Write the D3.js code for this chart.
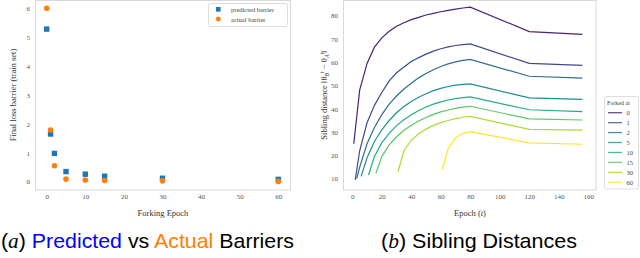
<!DOCTYPE html>
<html>
<head>
<meta charset="utf-8">
<script src="https://cdn.jsdelivr.net/npm/d3@7"></script>
<style>
  body { margin: 0; background: #fff; }
  svg { display: block; }
</style>
</head>
<body>
<svg width="640" height="258"></svg>
<script>
// ---- data: (a) barriers ----
const forkEpochs = [0, 1, 2, 5, 10, 15, 30, 60];
const predictedBarrier = [5.28, 1.65, 0.98, 0.35, 0.26, 0.19, 0.12, 0.08];
const actualBarrier = [6.0, 1.79, 0.55, 0.09, 0.06, 0.04, 0.03, 0.01];
const barrierTicksX = [0, 10, 20, 30, 40, 50, 60];
const barrierTicksY = [0, 1, 2, 3, 4, 5, 6];

// ---- data: (b) sibling distances, one list per fork epoch ----
const forkedAt = [0, 1, 2, 5, 10, 15, 30, 60];
const epochs0 = [1, 5, 10, 15, 20, 25, 30, 35, 40, 45, 50, 55, 60, 65, 70, 75, 80, 120, 156];
const dist0 = [25, 48, 59.5, 66.5, 70.5, 73.3, 75.5, 77, 78.3, 79.3, 80.3, 81, 81.7, 82.3, 82.8, 83.3, 83.7, 73.2, 72];
const epochs1 = [2, 5, 10, 15, 20, 25, 30, 35, 40, 45, 50, 55, 60, 65, 70, 75, 80, 120, 156];
const dist1 = [9.5, 22, 34, 41.5, 47, 52, 55.5, 58, 60.3, 62, 63.5, 64.8, 65.8, 66.6, 67.2, 67.6, 67.9, 59.5, 58.7];
const epochs2 = [3, 5, 10, 15, 20, 25, 30, 35, 40, 45, 50, 55, 60, 65, 70, 75, 80, 120, 156];
const dist2 = [10, 15, 25, 32, 37.5, 42, 45.5, 48.5, 51, 53.3, 55.2, 56.8, 58.2, 59.3, 60.2, 60.8, 61.2, 54, 53.2];
const epochs5 = [6, 10, 15, 20, 25, 30, 35, 40, 45, 50, 55, 60, 65, 70, 75, 80, 120, 156];
const dist5 = [11, 19, 26, 31, 35, 38.3, 41, 43.2, 45, 46.5, 47.8, 48.8, 49.6, 50.2, 50.5, 50.7, 44.7, 44.1];
const epochs10 = [11, 15, 20, 25, 30, 35, 40, 45, 50, 55, 60, 65, 70, 75, 80, 120, 156];
const dist10 = [11.6, 19.5, 25.5, 29.5, 32.8, 35.3, 37.5, 39.3, 40.8, 42, 43, 43.8, 44.4, 44.8, 45.1, 39.6, 38.8];
const epochs15 = [16, 20, 25, 30, 35, 40, 45, 50, 55, 60, 65, 70, 75, 80, 120, 156];
const dist15 = [12.3, 19.5, 24.5, 28, 30.8, 33, 34.8, 36.3, 37.6, 38.7, 39.5, 40.2, 40.7, 41.1, 35.7, 35.2];
const epochs30 = [31, 35, 40, 45, 50, 55, 60, 65, 70, 75, 80, 120, 156];
const dist30 = [13, 22, 26.5, 29.3, 31.3, 32.9, 34.1, 35, 35.8, 36.4, 36.8, 31.2, 30.9];
const epochs60 = [61, 65, 70, 75, 80, 120, 156];
const dist60 = [14, 23, 27.5, 29.5, 30.2, 25.4, 24.8];
const siblingTicksX = [0, 20, 40, 60, 80, 100, 120, 140, 160];
const siblingTicksY = [10, 20, 30, 40, 50, 60, 70, 80];

const siblingSeries = [
  [epochs0, dist0], [epochs1, dist1], [epochs2, dist2], [epochs5, dist5],
  [epochs10, dist10], [epochs15, dist15], [epochs30, dist30], [epochs60, dist60]
];

const svg = d3.select('svg');
const tickFont = 'Liberation Serif, DejaVu Serif, serif';
const frameColor = '#d9d9d9';
const tickColor = '#555';

// ================= (a) =================
const xA = d3.scaleLinear().domain([0, 60]).range([46.7, 278.3]);
const yA = d3.scaleLinear().domain([0, 6]).range([181.7, 8.3]);

svg.append('rect')
  .attr('x', 35.5).attr('y', 0.5).attr('width', 255).attr('height', 189.5)
  .attr('fill', 'none').attr('stroke', frameColor);

const gxA = svg.append('g')
  .attr('transform', 'translate(0,190)')
  .call(d3.axisBottom(xA).tickValues(barrierTicksX).tickFormat(d3.format('d')).tickSize(0).tickPadding(4));
const gyA = svg.append('g')
  .attr('transform', 'translate(35,0)')
  .call(d3.axisLeft(yA).tickValues(barrierTicksY).tickFormat(d3.format('d')).tickSize(0).tickPadding(5));

[gxA, gyA].forEach(g => {
  g.select('.domain').remove();
  g.selectAll('text').attr('font-family', tickFont).attr('font-size', 7).attr('fill', tickColor);
});

svg.append('g').selectAll('rect')
  .data(forkEpochs)
  .join('rect')
  .attr('x', d => xA(d) - 2.7)
  .attr('y', (d, i) => yA(predictedBarrier[i]) - 2.7)
  .attr('width', 5.4).attr('height', 5.4)
  .attr('fill', '#1f77b4');

svg.append('g').selectAll('circle')
  .data(forkEpochs)
  .join('circle')
  .attr('cx', d => xA(d))
  .attr('cy', (d, i) => yA(actualBarrier[i]))
  .attr('r', 2.8)
  .attr('fill', '#ff7f0e');

// legend (a)
const legA = svg.append('g');
legA.append('rect')
  .attr('x', 208.5).attr('y', 3.5).attr('width', 79).attr('height', 23).attr('rx', 2)
  .attr('fill', '#fff').attr('stroke', '#ddd');
legA.append('rect').attr('x', 216).attr('y', 7).attr('width', 4.6).attr('height', 4.6).attr('fill', '#1f77b4');
legA.append('circle').attr('cx', 218.3).attr('cy', 19).attr('r', 2.4).attr('fill', '#ff7f0e');
legA.append('text').attr('x', 231).attr('y', 11.5).text('predicted barrier');
legA.append('text').attr('x', 231).attr('y', 21.5).text('actual barrier');
legA.selectAll('text').attr('font-family', tickFont).attr('font-size', 6.5).attr('fill', '#444');

svg.append('text')
  .attr('transform', 'translate(16,95) rotate(-90)')
  .attr('text-anchor', 'middle')
  .attr('font-family', tickFont).attr('font-size', 8.5).attr('fill', '#333')
  .text('Final loss barrier (train set)');

svg.append('text')
  .attr('x', 163).attr('y', 216)
  .attr('text-anchor', 'middle')
  .attr('font-family', tickFont).attr('font-size', 8.5).attr('fill', '#333')
  .text('Forking Epoch');

// ================= (b) =================
const xB = d3.scaleLinear().domain([0, 160]).range([352.3, 588.3]);
const yB = d3.scaleLinear().domain([10, 80]).range([178.7, 15.7]);
const color = i => d3.interpolateViridis(0.1 + 0.9 * i / 7);

svg.append('rect')
  .attr('x', 343.5).attr('y', 0.5).attr('width', 252.5).attr('height', 189.5)
  .attr('fill', 'none').attr('stroke', frameColor);

const gxB = svg.append('g')
  .attr('transform', 'translate(0,190)')
  .call(d3.axisBottom(xB).tickValues(siblingTicksX).tickFormat(d3.format('d')).tickSize(0).tickPadding(4));
const gyB = svg.append('g')
  .attr('transform', 'translate(343,0)')
  .call(d3.axisLeft(yB).tickValues(siblingTicksY).tickFormat(d3.format('d')).tickSize(0).tickPadding(5));

[gxB, gyB].forEach(g => {
  g.select('.domain').remove();
  g.selectAll('text').attr('font-family', tickFont).attr('font-size', 7).attr('fill', tickColor);
});

const line = d3.line().x(d => xB(d[0])).y(d => yB(d[1]));

svg.append('g').selectAll('path')
  .data(siblingSeries)
  .join('path')
  .attr('d', s => line(s[0].map((e, j) => [e, s[1][j]])))
  .attr('fill', 'none')
  .attr('stroke', (s, i) => color(i))
  .attr('stroke-width', 1.2);

// legend (b)
const legB = svg.append('g');
legB.append('rect')
  .attr('x', 604.5).attr('y', 96.5).attr('width', 34).attr('height', 92.5).attr('rx', 2)
  .attr('fill', '#fff').attr('stroke', '#ddd');
legB.append('text').attr('x', 607).attr('y', 105).text('Forked at')
  .attr('font-family', tickFont).attr('font-size', 6).attr('fill', '#444');
forkedAt.forEach((f, i) => {
  const yy = 112.7 + i * 9.94;
  legB.append('line')
    .attr('x1', 608).attr('x2', 622).attr('y1', yy).attr('y2', yy)
    .attr('stroke', color(i)).attr('stroke-width', 1.3).attr('opacity', 0.8);
  legB.append('text').attr('x', 626.5).attr('y', yy + 2.3).text(f)
    .attr('font-family', tickFont).attr('font-size', 6.5).attr('fill', '#444');
});

svg.append('text')
  .attr('transform', 'translate(327,95) rotate(-90)')
  .attr('text-anchor', 'middle')
  .attr('font-family', tickFont).attr('font-size', 8.5).attr('fill', '#333')
  .html('Sibling distance ‖θ<tspan font-style="italic" font-size="6" dy="2">B</tspan><tspan font-size="6" dy="-5">t</tspan><tspan dy="3"> − θ</tspan><tspan font-style="italic" font-size="6" dy="2">A</tspan><tspan font-size="6" dy="-5">t</tspan><tspan dy="3">‖</tspan>');

svg.append('text')
  .attr('x', 470).attr('y', 216)
  .attr('text-anchor', 'middle')
  .attr('font-family', tickFont).attr('font-size', 8.5).attr('fill', '#333')
  .html('Epoch (<tspan font-style="italic">t</tspan>)');

// ================= captions =================
const capFont = 'Liberation Sans, Arial, sans-serif';
const capA = svg.append('text')
  .attr('x', 1).attr('y', 248)
  .attr('font-family', capFont).attr('font-size', 21).attr('fill', '#000')
  .attr('textLength', 293).attr('lengthAdjust', 'spacingAndGlyphs');
capA.append('tspan').text('(');
capA.append('tspan').attr('font-family', 'Liberation Serif, serif').attr('font-style', 'italic').text('a');
capA.append('tspan').text(') ');
capA.append('tspan').attr('fill', '#0000ff').text('Predicted');
capA.append('tspan').text(' vs ');
capA.append('tspan').attr('fill', '#ff8000').text('Actual');
capA.append('tspan').text(' Barriers');

const capB = svg.append('text')
  .attr('x', 381).attr('y', 248)
  .attr('font-family', capFont).attr('font-size', 21).attr('fill', '#000')
  .attr('textLength', 196).attr('lengthAdjust', 'spacingAndGlyphs');
capB.append('tspan').text('(');
capB.append('tspan').attr('font-family', 'Liberation Serif, serif').attr('font-style', 'italic').text('b');
capB.append('tspan').text(') Sibling Distances');
</script>
</body>
</html>
